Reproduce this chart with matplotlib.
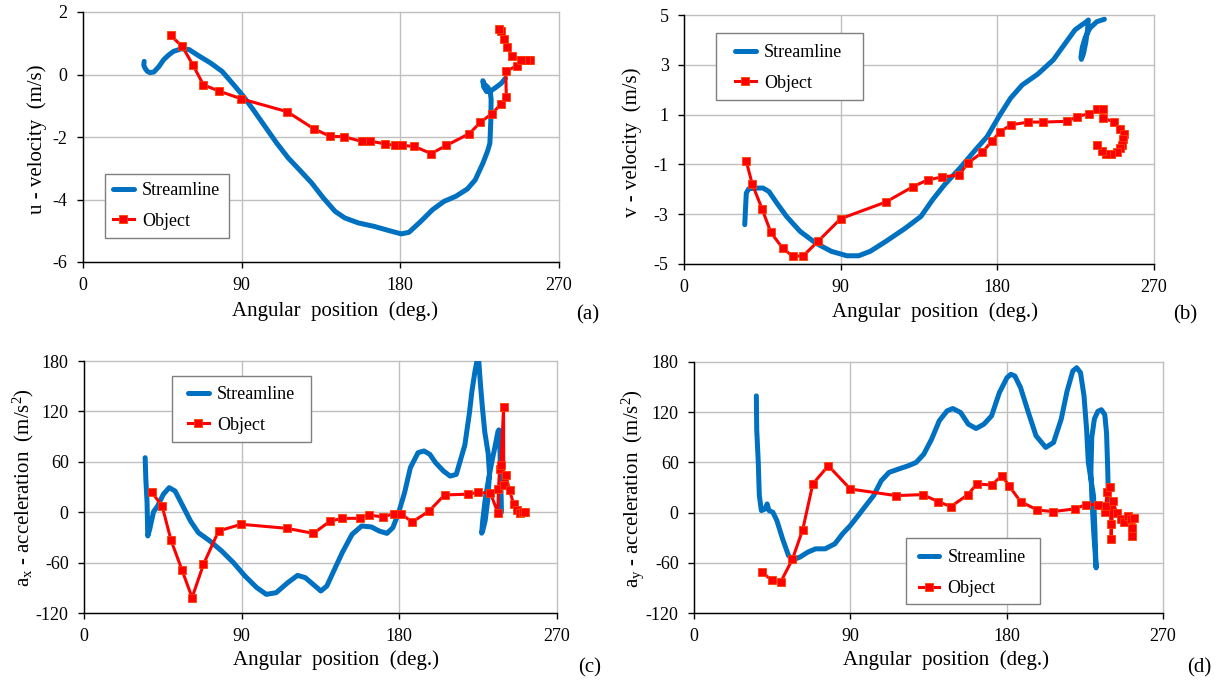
import matplotlib
matplotlib.use('Agg')
import matplotlib.pyplot as plt
from matplotlib.lines import Line2D
from matplotlib.patches import Rectangle

plt.rcParams['font.family'] = ['Liberation Serif', 'DejaVu Serif']
plt.rcParams['mathtext.fontset'] = 'custom'
plt.rcParams['mathtext.rm'] = 'Liberation Serif'
plt.rcParams['mathtext.it'] = 'Liberation Serif:italic'
plt.rcParams['axes.unicode_minus'] = False

# ---------------- data ----------------
x_ticks = [0, 90, 180, 270]

# (a) u-velocity
a_str_x = [34.7, 34.5, 35.2, 36.5, 38.0, 40.2, 43.0, 45.7, 48.5, 51.3, 55.7, 60.1, 65.6, 72.3, 78.9, 85.5, 91.0, 96.6,
           103.2, 109.8, 116.4, 123.1, 129.7, 136.3, 143.0, 148.5, 156.2, 165.1, 173.9, 180.5, 184.9, 191.6, 198.2,
           204.8, 211.4, 218.1, 222.5, 226.9, 229.5, 230.8, 231.3, 231.5, 231.0, 229.5, 227.5, 226.8, 227.3, 229.0,
           231.5, 234.5, 237.3, 239.6]
a_str_y = [0.42, 0.30, 0.20, 0.10, 0.06, 0.08, 0.25, 0.47, 0.62, 0.74, 0.82, 0.80, 0.60, 0.37, 0.10, -0.33, -0.70, -1.13,
           -1.66, -2.19, -2.67, -3.07, -3.47, -3.95, -4.38, -4.59, -4.75, -4.86, -5.00, -5.10, -5.05, -4.70, -4.33,
           -4.06, -3.90, -3.66, -3.37, -2.83, -2.45, -2.20, -1.50, -0.80, -0.55, -0.40, -0.30, -0.20, -0.40, -0.55,
           -0.52, -0.40, -0.28, -0.12]
a_obj_x = [49.7, 56.3, 62.3, 68.3, 77.1, 89.9, 115.8, 131.0, 140.3, 148.0, 158.0, 162.8, 171.2, 177.2, 181.2, 187.8,
           197.5, 206.1, 219.2, 225.4, 232.0, 237.2, 240.1, 239.8, 246.2, 249.0, 250.8, 252.3, 253.5, 251.5, 248.5,
           243.3, 240.5, 238.6, 237.2, 235.8]
a_obj_y = [1.25, 0.90, 0.31, -0.33, -0.53, -0.78, -1.19, -1.74, -1.98, -1.99, -2.14, -2.13, -2.22, -2.27, -2.27, -2.30,
           -2.53, -2.27, -1.89, -1.53, -1.25, -0.94, -0.71, 0.10, 0.28, 0.45, 0.47, 0.47, 0.47, 0.47, 0.47,
           0.59, 0.87, 1.15, 1.38, 1.45]
a_yticks = [-6, -4, -2, 0, 2]

# (b) v-velocity
b_str_x = [34.9, 35.4, 35.8, 37.2, 41.0, 45.4, 48.8, 53.3, 58.9, 66.7, 75.7, 84.6, 93.6, 100.3, 107.0, 116.0, 127.2,
           136.1, 142.8, 149.6, 158.5, 167.5, 174.2, 180.9, 187.6, 194.3, 203.3, 212.2, 219.0, 224.6, 228.5, 231.0,
           232.3, 231.8, 230.8, 229.5, 228.3, 228.0, 228.8, 230.5, 233.2, 237.1, 241.5]
b_str_y = [-3.42, -2.69, -2.15, -1.98, -1.95, -1.95, -2.09, -2.55, -3.09, -3.69, -4.16, -4.49, -4.67, -4.67, -4.49,
           -4.09, -3.56, -3.09, -2.42, -1.82, -1.15, -0.41, 0.12, 0.92, 1.66, 2.19, 2.63, 3.20, 3.86, 4.40, 4.60, 4.72,
           4.80, 4.40, 3.90, 3.45, 3.22, 3.30, 3.70, 4.10, 4.47, 4.73, 4.83]
b_obj_x = [35.8, 39.2, 44.8, 49.9, 56.6, 62.5, 68.5, 77.0, 90.0, 116.0, 131.6, 140.1, 148.0, 158.1, 163.0, 171.3,
           177.1, 181.6, 188.1, 197.7, 206.4, 220.2, 225.8, 232.8, 237.5, 240.5, 240.8, 247.0, 250.3, 253.0, 252.3,
           251.9, 250.6, 248.5, 245.5, 242.2, 240.2, 237.5]
b_obj_y = [-0.88, -1.79, -2.78, -3.73, -4.36, -4.69, -4.67, -4.09, -3.18, -2.51, -1.89, -1.62, -1.51, -1.42, -0.95,
           -0.52, -0.05, 0.32, 0.59, 0.70, 0.70, 0.73, 0.92, 1.04, 1.21, 1.24, 0.86, 0.70, 0.41, 0.23, 0.01, -0.21,
           -0.35, -0.50, -0.57, -0.58, -0.46, -0.21]
b_yticks = [-5, -3, -1, 1, 3, 5]

# (c) a_x acceleration
c_str_x = [34.9, 35.3, 36.0, 36.4, 37.5, 39.7, 42.0, 45.3, 48.6, 52.0, 56.4, 60.8, 65.3, 71.9, 78.6, 85.3, 91.9, 98.6,
           104.1, 109.7, 116.3, 121.9, 126.3, 130.8, 135.2, 138.6, 143.0, 147.4, 153.0, 158.5, 164.1, 168.5, 172.9,
           176.3, 179.6, 183.0, 186.3, 190.7, 194.1, 197.4, 200.7, 205.2, 209.0, 212.5, 214.6, 217.4, 220.0, 221.5,
           223.2, 224.5, 225.2, 226.2, 227.4, 228.8, 230.7, 231.5, 230.5, 229.0, 227.6, 227.0, 227.6, 229.0, 231.0,
           233.0, 234.8, 236.3, 236.8, 237.5, 238.0, 238.3]
c_str_y = [64.9, 39.1, 11.3, -28.3, -20.4, 0.5, 7.4, 21.3, 29.2, 25.2, 7.4, -10.5, -24.4, -34.3, -46.2, -60.1, -76.0,
           -89.8, -97.8, -95.8, -83.9, -75.2, -77.9, -85.9, -93.8, -87.9, -68.0, -48.2, -26.4, -16.4, -17.6, -22.4,
           -25.2, -18.4, -0.6, 23.3, 53.0, 70.9, 72.9, 68.9, 58.9, 49.0, 43.0, 45.0, 60.0, 80.0, 118.0, 145.0, 168.0,
           182.0, 184.0, 155.0, 125.0, 95.0, 70.0, 45.0, 15.0, -10.0, -22.0, -25.0, -10.0, 15.0, 40.0, 62.0, 80.0,
           96.0, 98.0, 70.0, 30.0, 0.0]
c_obj_x = [38.6, 44.6, 49.7, 56.0, 61.7, 68.2, 76.8, 89.7, 115.9, 131.0, 140.3, 147.4, 157.4, 162.5, 170.7, 176.7,
           180.7, 187.4, 197.0, 205.8, 219.3, 224.7, 232.0, 236.2, 236.6, 237.2, 238.0, 239.5, 239.6, 240.8, 242.9,
           245.3, 247.0, 248.7, 250.7, 252.0]
c_obj_y = [24.0, 7.4, -33.5, -69.2, -101.7, -62.1, -22.4, -14.4, -19.2, -25.2, -10.9, -7.3, -7.3, -3.3, -5.7, -1.7,
           -1.7, -11.7, 1.4, 20.5, 21.5, 23.5, 22.7, -0.4, 27.2, 51.5, 56.5, 124.8, 32.8, 44.7, 26.0, 9.4, 2.2, -1.5,
           0.0, 0.2]
c_yticks = [-120, -60, 0, 60, 120, 180]

# (d) a_y acceleration
d_str_x = [35.9, 36.1, 37.0, 37.6, 38.8, 41.0, 42.1, 43.2, 45.4, 47.7, 51.0, 54.4, 57.0, 61.0, 65.5, 70.0, 75.5, 81.1,
           85.5, 90.0, 94.5, 98.9, 103.4, 107.8, 112.3, 117.8, 123.4, 127.9, 132.3, 136.8, 141.2, 145.7, 149.0, 153.5,
           157.9, 162.4, 166.9, 171.3, 175.8, 180.2, 182.4, 184.7, 188.0, 192.5, 196.9, 202.5, 207.0, 211.4, 214.8,
           218.1, 220.3, 222.5, 224.5, 226.0, 227.0, 228.5, 230.0, 230.8, 231.3, 231.5, 231.0, 230.0, 229.0, 228.5,
           229.0, 230.5, 232.5, 234.5, 236.5, 237.5, 238.2, 238.6, 238.8]
d_str_y = [139.5, 99.7, 60.0, 20.3, 2.4, 4.4, 10.3, 2.4, 0.4, -9.5, -31.4, -51.3, -56.4, -53.2, -47.3, -43.3, -43.3,
           -37.3, -25.4, -15.5, -3.6, 8.3, 20.3, 38.1, 48.1, 52.1, 56.0, 60.0, 69.9, 87.8, 109.7, 121.6, 124.4, 119.6,
           105.7, 100.5, 105.7, 115.6, 143.4, 161.3, 165.3, 163.3, 149.4, 119.6, 91.8, 77.9, 83.8, 111.7, 145.4, 169.3,
           173.2, 167.3, 140.0, 100.0, 60.0, 40.0, 20.0, -20.0, -55.0, -66.0, -50.0, -20.0, 20.0, 50.0, 90.0, 112.0,
           121.0, 123.0, 117.0, 95.0, 50.0, 10.0, 0.0]
d_obj_x = [39.2, 44.8, 49.9, 56.6, 62.6, 68.4, 77.3, 90.0, 116.3, 131.7, 140.6, 147.9, 157.7, 162.8, 171.3, 177.3,
           181.3, 188.0, 197.6, 206.5, 219.2, 225.4, 232.8, 236.6, 237.1, 237.8, 239.3, 240.0, 240.1, 241.2, 243.3,
           245.6, 247.8, 249.9, 251.3, 252.1, 252.1, 253.1]
d_obj_y = [-71.1, -81.1, -83.0, -56.0, -20.3, 34.2, 56.0, 28.2, 20.3, 21.5, 13.1, 7.2, 21.5, 34.2, 33.0, 44.1, 32.2,
           13.1, 3.2, 1.2, 4.4, 9.5, 9.5, 0.4, 8.3, 25.0, 30.2, -13.5, -31.4, 13.5, -0.8, -7.6, -11.5, -3.6, -7.6,
           -18.7, -28.2, -6.4]
d_yticks = [-120, -60, 0, 60, 120, 180]

series_names = ['Streamline', 'Object']
x_label = 'Angular  position  (deg.)'
y_labels = ['u - velocity  (m/s)', 'v - velocity  (m/s)',
            r'a$_\mathrm{x}$ - acceleration  (m/s$^\mathrm{2}$)',
            r'a$_\mathrm{y}$ - acceleration  (m/s$^\mathrm{2}$)']
panel_tags = ['(a)', '(b)', '(c)', '(d)']

# ---------------- style ----------------
BLUE = '#0070C0'
RED = '#FF0000'
W, H = 1222, 684
fig = plt.figure(figsize=(W / 100, H / 100), dpi=100)


def rect(l, r, t, b):
    return [l / W, 1 - b / H, (r - l) / W, (b - t) / H]


panels = [
    dict(rect=rect(83, 559, 12, 262), sx=a_str_x, sy=a_str_y, ox=a_obj_x, oy=a_obj_y, yt=a_yticks,
         frame=(0.046, 0.096, 0.261, 0.256), leg=(0.063, 0.224),
         ylab=(37, 139), xlab=(335, 311), tag=(599, 315)),
    dict(rect=rect(684, 1154, 15, 264), sx=b_str_x, sy=b_str_y, ox=b_obj_x, oy=b_obj_y, yt=b_yticks,
         frame=(0.068, 0.659, 0.313, 0.269), leg=(0.1085, 0.788),
         ylab=(632, 142), xlab=(935, 312), tag=(1197, 315)),
    dict(rect=rect(84, 557, 361, 613), sx=c_str_x, sy=c_str_y, ox=c_obj_x, oy=c_obj_y, yt=c_yticks,
         frame=(0.186, 0.679, 0.294, 0.261), leg=(0.22, 0.806),
         ylab=(23, 488), xlab=(336, 660), tag=(601, 668)),
    dict(rect=rect(694, 1163, 362, 613), sx=d_str_x, sy=d_str_y, ox=d_obj_x, oy=d_obj_y, yt=d_yticks,
         frame=(0.452, 0.036, 0.286, 0.263), leg=(0.479, 0.159),
         ylab=(633, 489), xlab=(946, 660), tag=(1211, 668)),
]

for i, p in enumerate(panels):
    ax = fig.add_axes(p['rect'])
    ax.plot(p['sx'], p['sy'], color=BLUE, lw=3.6, solid_capstyle='round', solid_joinstyle='round', zorder=3)
    ax.plot(p['ox'], p['oy'], color=RED, lw=2.2, marker='s', ms=6.0, mfc=RED, mec='#FF4000', mew=0.6, zorder=4)
    ax.set_xlim(0, 270)
    ax.set_xticks(x_ticks)
    ax.set_ylim(p['yt'][0], p['yt'][-1])
    ax.set_yticks(p['yt'])
    ax.grid(True, color='#C0C0C0', lw=1.0)
    for gl in ax.get_xgridlines() + ax.get_ygridlines():
        gl.set_clip_on(False)
    ax.set_axisbelow(True)
    for s in ('top', 'right'):
        ax.spines[s].set_visible(False)
    for s in ('left', 'bottom'):
        ax.spines[s].set_color('black')
        ax.spines[s].set_linewidth(1.0)
        ax.spines[s].set_zorder(5)
    ax.tick_params(direction='out', length=4, width=1, labelsize=13, color='black')
    ax.tick_params(axis='x', pad=7)
    ax.tick_params(axis='y', pad=7)

    fx, fy, fw, fh = p['frame']
    ax.add_patch(Rectangle((fx, fy), fw, fh, transform=ax.transAxes, facecolor='white',
                           edgecolor='#7F7F7F', lw=1.0, zorder=6, clip_on=False))
    handles = [Line2D([], [], color=BLUE, lw=3.6, solid_capstyle='round'),
               Line2D([], [], color=RED, lw=2.2, marker='s', ms=6.0, mfc=RED, mec='#FF4000', mew=0.6)]
    leg = ax.legend(handles, series_names, loc='center left', bbox_to_anchor=p['leg'], frameon=False,
                    fontsize=13, handlelength=1.15, handletextpad=0.45, labelspacing=0.75,
                    borderpad=0, borderaxespad=0)
    leg.set_zorder(7)

    fig.text(p['ylab'][0] / W, 1 - p['ylab'][1] / H, y_labels[i], rotation=90, ha='center', va='center',
             fontsize=15)
    fig.text(p['xlab'][0] / W, 1 - p['xlab'][1] / H, x_label, ha='center', va='center', fontsize=15)
    fig.text(p['tag'][0] / W, 1 - p['tag'][1] / H, panel_tags[i], ha='right', va='center', fontsize=15)

fig.savefig('out.png', dpi=100)
